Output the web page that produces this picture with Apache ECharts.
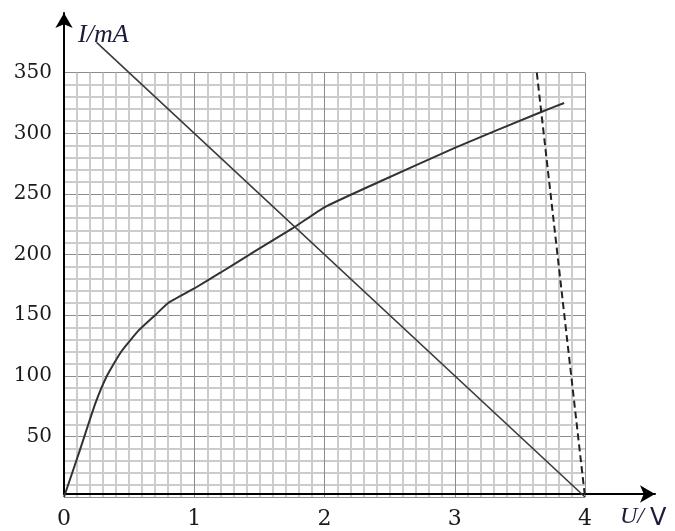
<!DOCTYPE html>
<html>
<head>
<meta charset="utf-8">
<script src="https://cdn.jsdelivr.net/npm/echarts@6/dist/echarts.min.js"></script>
<style>
  html, body { margin: 0; padding: 0; background: #fff; }
  #chart { width: 675px; height: 531px; }
</style>
</head>
<body>
<div id="chart"></div>
<script>
// I-U curve of the lamp (U in V, I in mA)
const curveU = [0, 0.12, 0.24, 0.33, 0.44, 0.57, 0.7, 0.8, 1.0, 1.2, 1.47, 1.76, 2.0, 2.4, 3.0, 3.65, 3.84]
const curveI = [0, 38, 77, 100, 120, 137, 150, 160, 172, 185, 203, 222, 239, 259, 288, 317, 325]
// source line I = 400 - 100U
const lineU = [0.25, 4]
const lineI = [375, 0]
// dashed line
const dashU = [3.63, 4]
const dashI = [350, 0]

const xTicks = [0, 1, 2, 3, 4]
const yTicks = [0, 50, 100, 150, 200, 250, 300, 350]

function pairs (xs, ys) {
  return xs.map((x, i) => [x, ys[i]])
}

let myChart = echarts.init(document.getElementById('chart'))
var option = {
  backgroundColor: '#fff',
  animation: false,
  grid: [
    { left: 64, right: 90, top: 72.7, bottom: 34 },
    { left: 64, right: 20, top: 13, bottom: 34 }
  ],
  xAxis: [{
    type: 'value',
    gridIndex: 0,
    min: xTicks[0],
    max: xTicks[xTicks.length - 1],
    interval: 1,
    axisLine: { show: false },
    axisTick: { show: false },
    minorTick: { show: false, splitNumber: 10 },
    axisLabel: {
      margin: 11,
      fontFamily: 'DejaVu Serif',
      fontSize: 22,
      color: '#1a1a1a'
    },
    splitLine: { show: true, lineStyle: { color: '#8c8c8c', width: 1 } },
    minorSplitLine: { show: true, lineStyle: { color: '#cccccc', width: 2 } }
  }, {
    type: 'value',
    gridIndex: 1,
    min: 0,
    max: 1,
    axisLine: {
      show: true,
      symbol: ['none', 'arrow'],
      symbolSize: [13, 15],
      lineStyle: { color: '#000', width: 2 }
    },
    axisTick: { show: false },
    axisLabel: { show: false },
    splitLine: { show: false },
    name: 'U/ {v|V}',
    nameLocation: 'end',
    nameGap: -35,
    nameTextStyle: {
      align: 'left',
      verticalAlign: 'top',
      padding: [9, 0, 0, 0],
      fontFamily: 'Liberation Serif',
      fontStyle: 'italic',
      fontSize: 24,
      color: '#1a1a3a',
      rich: {
        v: { fontFamily: 'DejaVu Sans', fontStyle: 'normal', fontSize: 24, color: '#1a1a3a', padding: [4, 0, 0, 0] }
      }
    }
  }],
  yAxis: [{
    type: 'value',
    gridIndex: 0,
    min: yTicks[0],
    max: yTicks[yTicks.length - 1],
    interval: 50,
    axisLine: { show: false },
    axisTick: { show: false },
    minorTick: { show: false, splitNumber: 5 },
    axisLabel: {
      margin: 12,
      fontFamily: 'DejaVu Serif',
      fontSize: 20,
      color: '#1a1a1a',
      formatter: v => v === 0 ? '' : v
    },
    splitLine: { show: true, lineStyle: { color: '#8c8c8c', width: 1 } },
    minorSplitLine: { show: true, lineStyle: { color: '#cccccc', width: 2 } }
  }, {
    type: 'value',
    gridIndex: 1,
    min: 0,
    max: 1,
    axisLine: {
      show: true,
      symbol: ['none', 'arrow'],
      symbolSize: [13, 15],
      lineStyle: { color: '#000', width: 2 }
    },
    axisTick: { show: false },
    axisLabel: { show: false },
    splitLine: { show: false },
    name: 'I/mA',
    nameLocation: 'end',
    nameGap: -22,
    nameTextStyle: {
      align: 'left',
      verticalAlign: 'middle',
      padding: [0, 0, 0, 14],
      fontFamily: 'Liberation Serif',
      fontStyle: 'italic',
      fontSize: 26,
      color: '#1a1a3a'
    }
  }],
  series: [{
    name: 'lamp',
    type: 'line',
    xAxisIndex: 0,
    yAxisIndex: 0,
    data: pairs(curveU, curveI),
    smooth: 0.15,
    showSymbol: false,
    lineStyle: { color: '#333', width: 2 }
  }, {
    name: 'source',
    type: 'line',
    xAxisIndex: 0,
    yAxisIndex: 0,
    data: pairs(lineU, lineI),
    clip: false,
    showSymbol: false,
    lineStyle: { color: '#3a3a3a', width: 1.6 }
  }, {
    name: 'dashed',
    type: 'line',
    xAxisIndex: 0,
    yAxisIndex: 0,
    data: pairs(dashU, dashI),
    showSymbol: false,
    lineStyle: { color: '#222', width: 2, type: [7, 4] }
  }]
}
myChart.setOption(option)
</script>
</body>
</html>
